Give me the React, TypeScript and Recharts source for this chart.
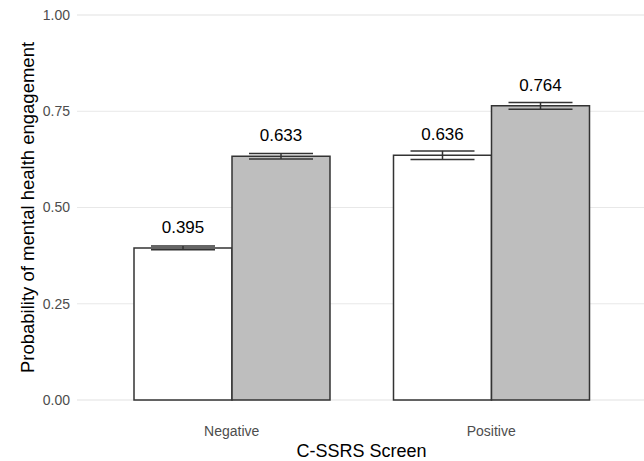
import React from 'react';
import {
  BarChart,
  Bar,
  XAxis,
  YAxis,
  CartesianGrid,
  ErrorBar,
  LabelList,
  Label,
} from 'recharts';

// C-SSRS screen result on the x axis, two groups per screen result
const categories = ['Negative', 'Positive'];
const whiteValues = [0.395, 0.636];
const whiteErrors = [0.005, 0.011];
const greyValues = [0.633, 0.764];
const greyErrors = [0.007, 0.0085];

const majorTicks = [0, 0.25, 0.5, 0.75, 1];
const minorTicks = [0.125, 0.375, 0.625, 0.875];

const FONT = '"Liberation Sans", Arial, sans-serif';

const data = categories.map((name, i) => ({
  name,
  white: whiteValues[i],
  whiteErr: whiteErrors[i],
  grey: greyValues[i],
  greyErr: greyErrors[i],
}));

const fmt = (v: number) => v.toFixed(3);

export default function App() {
  return (
    <div
      style={{
        position: 'absolute',
        left: 0,
        top: 0,
        width: 644,
        height: 461,
        overflow: 'hidden',
        background: '#fff',
      }}
    >
      <BarChart
        width={660}
        height={461}
        data={data}
        margin={{ top: 15, right: 14, bottom: 0, left: 0 }}
        barCategoryGap={32}
        barGap={0}
        style={{ fontFamily: FONT }}
      >
        {/* minor grid from a hidden axis, major grid from the visible one */}
        <CartesianGrid vertical={false} yAxisId="minor" stroke="#f1f1f1" strokeWidth={1} />
        <CartesianGrid vertical={false} yAxisId="main" stroke="#e8e8e8" strokeWidth={1} />
        <XAxis
          dataKey="name"
          axisLine={false}
          tickLine={false}
          tickSize={0}
          tickMargin={26}
          height={61}
          padding={{ left: 25, right: 25 }}
          tick={{ fill: '#4d4d4d', fontSize: 14, fontFamily: FONT }}
        >
          <Label
            value="C-SSRS Screen"
            position="insideBottom"
            offset={4}
            style={{ fill: '#000', fontSize: 18, fontFamily: FONT }}
          />
        </XAxis>
        <YAxis
          yAxisId="minor"
          hide
          domain={[0, 1]}
          ticks={minorTicks}
        />
        <YAxis
          yAxisId="main"
          domain={[0, 1]}
          ticks={majorTicks}
          tickFormatter={(v: number) => v.toFixed(2)}
          axisLine={false}
          tickLine={false}
          tickSize={0}
          tickMargin={7}
          width={77}
          tick={{ fill: '#4d4d4d', fontSize: 14, fontFamily: FONT }}
        >
          <Label
            value="Probability of mental health engagement"
            angle={-90}
            position="insideLeft"
            offset={27}
            style={{
              textAnchor: 'middle',
              fill: '#000',
              fontSize: 18.5,
              fontFamily: FONT,
            }}
          />
        </YAxis>
        <Bar
          yAxisId="main"
          dataKey="white"
          fill="#ffffff"
          stroke="#333333"
          strokeWidth={1.5}
          isAnimationActive={false}
        >
          <ErrorBar dataKey="whiteErr" width={32} stroke="#333333" strokeWidth={1.5} />
          <LabelList
            dataKey="white"
            position="top"
            offset={15}
            formatter={fmt}
            style={{ fill: '#000', fontSize: 17, fontFamily: FONT }}
          />
        </Bar>
        <Bar
          yAxisId="main"
          dataKey="grey"
          fill="#bebebe"
          stroke="#333333"
          strokeWidth={1.5}
          isAnimationActive={false}
        >
          <ErrorBar dataKey="greyErr" width={32} stroke="#333333" strokeWidth={1.5} />
          <LabelList
            dataKey="grey"
            position="top"
            offset={15}
            formatter={fmt}
            style={{ fill: '#000', fontSize: 17, fontFamily: FONT }}
          />
        </Bar>
      </BarChart>
    </div>
  );
}
